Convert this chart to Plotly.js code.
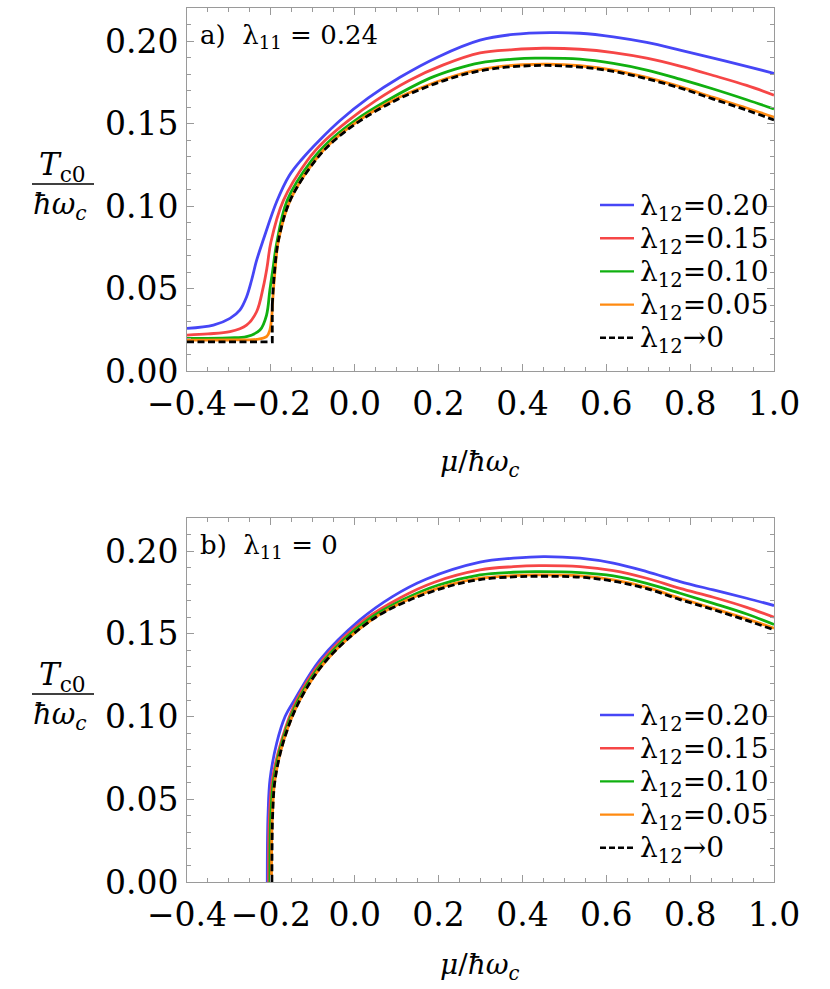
<!DOCTYPE html>
<html><head><meta charset="utf-8">
<script src="https://cdn.plot.ly/plotly-3.0.1.min.js"></script>
<style>
html,body{margin:0;padding:0;background:#fff}
</style>
</head><body>
<div id="chart" style="width:830px;height:989px"></div>
<script>
// ---------- data ----------
const seriesNames  = ['λ<sub>12</sub>=0.20','λ<sub>12</sub>=0.15','λ<sub>12</sub>=0.10','λ<sub>12</sub>=0.05','λ<sub>12</sub>→0'];
const seriesColors = ['#4646f6','#f64646','#10b010','#ff8a10','#000000'];
const panelLabels  = ['a)\u00a0\u00a0λ<sub>11</sub> = 0.24','b)\u00a0\u00a0λ<sub>11</sub> = 0'];
const xTickVals = [-0.4,-0.2,0.0,0.2,0.4,0.6,0.8,1.0];
const yTickVals = [0.00,0.05,0.10,0.15,0.20];

// panel a (λ11 = 0.24)
const a_blue_mu = [-0.4,-0.337,-0.2975,-0.274,-0.258,-0.246,-0.234,-0.218,-0.186,-0.156,-0.1265,-0.0845,-0.035,0.0325,0.108,0.2,0.299,0.378,0.466,0.5373,0.6168,0.6963,0.7758,0.8553,0.9348,1.0];
const a_blue_T  = [0.0258,0.0278,0.0319,0.0369,0.0449,0.055,0.067,0.0795,0.1027,0.1185,0.1282,0.1397,0.1518,0.1655,0.178,0.1905,0.2005,0.204,0.2051,0.2047,0.2025,0.1991,0.1945,0.1896,0.1846,0.1804];
const a_red_mu  = [-0.4,-0.35,-0.2975,-0.258,-0.234,-0.218,-0.209,-0.2,-0.170,-0.113,-0.071,-0.0153,0.05,0.13,0.21,0.299,0.378,0.449,0.5373,0.6168,0.6963,0.7758,0.8553,0.9348,1.0];
const a_red_T   = [0.0218,0.0225,0.0238,0.0278,0.0359,0.051,0.063,0.078,0.1034,0.1276,0.1397,0.1518,0.1639,0.1761,0.1854,0.1928,0.1948,0.1956,0.195,0.193,0.1896,0.1848,0.1791,0.1731,0.1672];
const a_green_mu= [-0.4,-0.3,-0.258,-0.226,-0.2103,-0.2024,-0.1944,-0.187,-0.161,-0.1026,-0.059,0.0006,0.0763,0.1795,0.24,0.299,0.378,0.43,0.5373,0.6168,0.6963,0.7758,0.8553,0.9348,1.0];
const a_green_T = [0.0198,0.0201,0.0208,0.0248,0.0339,0.049,0.063,0.076,0.1034,0.1276,0.1397,0.1518,0.1638,0.1775,0.183,0.1868,0.189,0.1896,0.189,0.1864,0.1824,0.1769,0.1709,0.1644,0.1588];
const a_orange_mu=[-0.4,-0.3,-0.234,-0.2103,-0.2024,-0.198,-0.195,-0.191,-0.1815,-0.153,-0.094,-0.05,0.013,0.095,0.16,0.22,0.28,0.34,0.40,0.46,0.5373,0.6168,0.6963,0.7758,0.8553,0.9348,1.0];
const a_orange_T =[0.0187,0.0188,0.0192,0.0208,0.0248,0.0328,0.045,0.058,0.0795,0.104,0.128,0.140,0.1524,0.1645,0.1718,0.1774,0.1817,0.1843,0.1856,0.186,0.185,0.1824,0.1779,0.1723,0.1658,0.1594,0.1538];
const a_blackStep_mu = [-0.4,-0.1966,-0.1966];
const a_blackStep_T  = [0.0177,0.0177,0.04];
const a_black_mu = [-0.1966,-0.192,-0.182,-0.154,-0.095,-0.051,0.0126,0.095,0.16,0.22,0.28,0.34,0.40,0.46,0.5373,0.6168,0.6963,0.7758,0.8553,0.9348,1.0];
const a_black_T  = [0.04,0.058,0.079,0.1034,0.1272,0.1392,0.1516,0.1637,0.171,0.1766,0.1809,0.1835,0.1848,0.1852,0.1842,0.1816,0.1771,0.1715,0.1648,0.1581,0.1521];

// panel b (λ11 = 0)
const b_blue_mu = [-0.2085,-0.208,-0.2065,-0.202,-0.186,-0.166,-0.1424,-0.0828,0.0126,0.09,0.17,0.2988,0.3783,0.45,0.5373,0.6168,0.6963,0.7758,0.8553,0.9348,1.0];
const b_blue_T  = [0,0.025,0.042,0.062,0.084,0.100,0.1105,0.1342,0.1584,0.1725,0.1830,0.1933,0.1957,0.1967,0.1957,0.1927,0.1876,0.1816,0.1765,0.1715,0.1671];
const b_red_mu  = [-0.2054,-0.205,-0.203,-0.1965,-0.1742,-0.1384,-0.0765,0.0229,0.11,0.19,0.2988,0.3783,0.44,0.5373,0.6168,0.6963,0.7758,0.8553,0.9348,1.0];
const b_red_T   = [0,0.025,0.0415,0.0617,0.0859,0.110,0.1342,0.1584,0.172,0.1812,0.1886,0.1906,0.1912,0.1906,0.1882,0.1836,0.1775,0.1721,0.166,0.160];
const b_green_mu= [-0.2022,-0.2018,-0.2,-0.1933,-0.1718,-0.1345,-0.0717,0.031,0.12,0.2,0.2988,0.3783,0.43,0.5373,0.6168,0.6963,0.7758,0.8553,0.9348,1.0];
const b_green_T = [0,0.025,0.0415,0.0617,0.0859,0.110,0.1342,0.1584,0.1712,0.1795,0.1856,0.1872,0.1876,0.187,0.185,0.1805,0.1745,0.1684,0.162,0.1557];
const b_orange_mu=[-0.1985,-0.198,-0.1962,-0.1903,-0.169,-0.131,-0.067,0.040,0.13,0.227,0.2988,0.3783,0.43,0.5373,0.6168,0.6963,0.7758,0.8553,0.9348,1.0];
const b_orange_T =[0,0.025,0.0415,0.0617,0.0859,0.110,0.1342,0.1584,0.1710,0.1797,0.1836,0.1852,0.1856,0.185,0.1826,0.1781,0.1715,0.1654,0.159,0.1534];
const b_black_mu = [-0.1975,-0.197,-0.1956,-0.190,-0.1687,-0.1305,-0.0668,0.0405,0.13,0.227,0.2988,0.3783,0.43,0.5373,0.6168,0.6963,0.7758,0.8553,0.9348,1.0];
const b_black_T  = [0,0.025,0.0415,0.0617,0.0859,0.110,0.1342,0.1584,0.1703,0.1789,0.1828,0.1844,0.1848,0.1842,0.1818,0.1773,0.1707,0.1646,0.1581,0.1524];

// ---------- figure ----------
const W = 830, H = 989;
const px = x => x / W, py = y => 1 - y / H;
const FONT = 'DejaVu Serif';
const DASH = '7px,3.5px';
const LW = 2.8;

function tr(mu, T, i, xa, ya, shape) {
  return {x: mu, y: T, xaxis: xa, yaxis: ya, mode: 'lines', showlegend: false, hoverinfo: 'skip',
    line: {color: seriesColors[i], width: LW, shape: shape || 'spline', smoothing: 1.0, dash: i === 4 ? DASH : 'solid'}};
}
const data = [
  tr(a_blue_mu, a_blue_T, 0, 'x', 'y'),
  tr(a_red_mu, a_red_T, 1, 'x', 'y'),
  tr(a_green_mu, a_green_T, 2, 'x', 'y'),
  tr(a_orange_mu, a_orange_T, 3, 'x', 'y'),
  tr(a_blackStep_mu, a_blackStep_T, 4, 'x', 'y', 'linear'),
  tr(a_black_mu, a_black_T, 4, 'x', 'y'),
  tr(b_blue_mu, b_blue_T, 0, 'x2', 'y2'),
  tr(b_red_mu, b_red_T, 1, 'x2', 'y2'),
  tr(b_green_mu, b_green_T, 2, 'x2', 'y2'),
  tr(b_orange_mu, b_orange_T, 3, 'x2', 'y2'),
  tr(b_black_mu, b_black_T, 4, 'x2', 'y2'),
];

const FRAME = '#9a9a9a';
const axCommon = {
  showline: true, linecolor: FRAME, linewidth: 1, mirror: 'ticks',
  ticks: 'inside', ticklen: 7, tickwidth: 1, tickcolor: FRAME,
  showgrid: false, zeroline: false,
  tickfont: {family: FONT, size: 33, color: '#000'},
};
const xCommon = Object.assign({}, axCommon, {
  domain: [px(187), px(774)], range: [-0.4, 1.0], tickmode: 'array', tickvals: xTickVals,
  tickformat: '.1f', ticklabelstandoff: 3,
  minor: {dtick: 0.05, tick0: 0, ticks: 'inside', ticklen: 4, tickcolor: FRAME, showgrid: false}
});
const yCommon = Object.assign({}, axCommon, {
  range: [0, 0.22], tickmode: 'array', tickvals: yTickVals, tickformat: '.2f', ticklabelstandoff: 1,
  minor: {dtick: 0.01, tick0: 0, ticks: 'inside', ticklen: 4, tickcolor: FRAME, showgrid: false}
});

const layout = {
  width: W, height: H, margin: {l: 0, r: 0, t: 0, b: 0},
  paper_bgcolor: '#fff', plot_bgcolor: '#fff', showlegend: false,
  font: {family: FONT, color: '#000'},
  xaxis: Object.assign({}, xCommon, {anchor: 'y'}),
  yaxis: Object.assign({}, yCommon, {anchor: 'x', domain: [py(371), py(8)]}),
  xaxis2: Object.assign({}, xCommon, {anchor: 'y2'}),
  yaxis2: Object.assign({}, yCommon, {anchor: 'x2', domain: [py(882), py(518)]}),
  annotations: [], shapes: []
};

const offs = [0, 510];
const xTitleY = [463, 966];
offs.forEach((o, p) => {
  layout.annotations.push({xref: 'paper', yref: 'paper', x: px(198), y: py(36 + o), xanchor: 'left', yanchor: 'middle',
    text: panelLabels[p], showarrow: false, font: {family: FONT, size: 26, color: '#000'}});
  layout.annotations.push({xref: 'paper', yref: 'paper', x: px(62), y: py(166 + o), xanchor: 'center', yanchor: 'middle',
    text: '<i>T</i><sub>c0</sub>', showarrow: false, font: {family: FONT, size: 31, color: '#000'}});
  layout.annotations.push({xref: 'paper', yref: 'paper', x: px(60), y: py(206 + o), xanchor: 'center', yanchor: 'middle',
    text: '<i>ħω<sub>c</sub></i>', showarrow: false, font: {family: FONT, size: 29, color: '#000'}});
  layout.shapes.push({type: 'line', xref: 'paper', yref: 'paper', x0: px(32), x1: px(94), y0: py(184 + o), y1: py(184 + o),
    line: {color: '#000', width: 1.6}});
  layout.annotations.push({xref: 'paper', yref: 'paper', x: px(480), y: py(xTitleY[p]), xanchor: 'center', yanchor: 'middle',
    text: '<i>μ</i>/<i>ħω<sub>c</sub></i>', showarrow: false, font: {family: FONT, size: 28, color: '#000'}});
  seriesNames.forEach((nm, i) => {
    const yy = 205 + 33.2 * i + o;
    layout.shapes.push({type: 'line', xref: 'paper', yref: 'paper', x0: px(600), x1: px(634), y0: py(yy), y1: py(yy),
      line: {color: seriesColors[i], width: 2.4, dash: i === 4 ? '6px,3px' : 'solid'}});
    layout.annotations.push({xref: 'paper', yref: 'paper', x: px(638), y: py(yy + 2), xanchor: 'left', yanchor: 'middle',
      text: nm, showarrow: false, font: {family: FONT, size: 28, color: '#000'}});
  });
});

Plotly.newPlot('chart', data, layout, {staticPlot: true, displayModeBar: false});
</script>
</body></html>
